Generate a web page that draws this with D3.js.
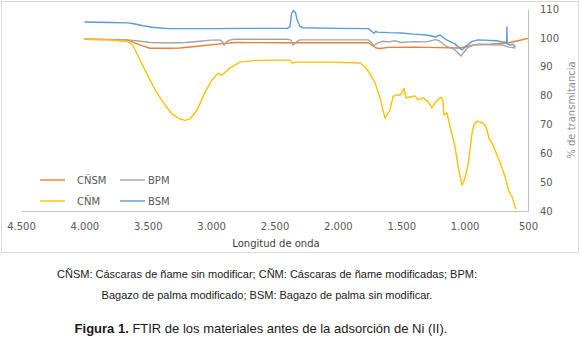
<!DOCTYPE html>
<html lang="es">
<head>
    <meta charset="utf-8" />
    <title>FTIR de los materiales</title>
    <script src="https://d3js.org/d3.v7.min.js"></script>
    <style>
        body { margin: 0; background: #fff; }
        .axis text { font-family: "DejaVu Sans", sans-serif; font-size: 10px; fill: #595959; }
        .caption { font-family: "Liberation Sans", Arial, sans-serif; fill: #1a1a1a; }
    </style>
</head>
<body>
    <script>
        var w = 580;
        var h = 338;

        // wavenumber (cm-1) and % transmittance
        var cnsmX = [4000, 3660, 3600, 3540, 3482, 3340, 3246, 3088, 2930, 2812, 2400, 1760, 1731, 1700, 1668, 1600, 1400, 1200, 1037, 960, 918, 800, 650, 580, 500];
        var cnsmY = [99.5, 99.3, 98.2, 97.2, 96.4, 96.4, 96.5, 97.2, 97.9, 98.4, 98.3, 98.3, 97.5, 96.5, 96.3, 96.7, 96.8, 96.6, 96.5, 97.2, 97.6, 97.8, 98.3, 99, 99.8];

        var bpmX = [4000, 3700, 3640, 3560, 3480, 3340, 3200, 3088, 3000, 2930, 2910, 2898, 2880, 2850, 2812, 2400, 2370, 2354, 2330, 2300, 1760, 1731, 1715, 1690, 1650, 1600, 1550, 1500, 1400, 1300, 1230, 1200, 1150, 1080, 1029, 980, 930, 894, 800, 700, 650, 600];
        var bpmY = [99.5, 99.4, 99.2, 98.8, 98.4, 98.2, 98.4, 98.8, 99.2, 99.3, 98.6, 97.5, 98.6, 99.3, 99.5, 99.5, 99.2, 97.5, 98.5, 99.3, 99.3, 98.2, 97.2, 98.2, 98.8, 98.6, 99, 98.4, 98.7, 98.6, 99.4, 99, 97.2, 96, 93.7, 96.5, 97.5, 97.8, 97.6, 97.5, 96.8, 96.5];

        var cnmX = [4000, 3800, 3656, 3620, 3600, 3522, 3443, 3364, 3309, 3246, 3206, 3167, 3111, 3048, 2993, 2946, 2914, 2851, 2772, 2654, 2457, 2378, 2362, 2330, 2062, 1825, 1786, 1747, 1707, 1668, 1628, 1589, 1565, 1541, 1510, 1494, 1478, 1463, 1431, 1392, 1368, 1328, 1289, 1257, 1226, 1186, 1171, 1163, 1139, 1115, 1092, 1076, 1052, 1021, 997, 973, 958, 942, 926, 902, 879, 855, 831, 808, 776, 745, 713, 681, 650, 626, 603, 595];
        var cnmY = [99.5, 99.3, 98.6, 97.6, 95.8, 88.9, 82, 76.7, 73.6, 71.9, 71.4, 71.9, 75, 81.2, 85.4, 87.7, 87.1, 89.6, 91.6, 92.2, 92.3, 92.3, 91.3, 91.6, 91.6, 91.3, 90, 87.5, 84.4, 79.2, 72.2, 75, 79.6, 80.2, 80.2, 81, 82.5, 79.2, 79.5, 79.9, 78.5, 79.2, 77.9, 75.7, 77.9, 79.4, 78.5, 73.3, 74, 69.2, 65.2, 62.3, 55.4, 49, 51.4, 55.9, 61.1, 67, 69.8, 71.2, 70.8, 70.4, 69.2, 65.2, 62.9, 59.4, 55.9, 51.9, 46.7, 45, 41.5, 40.7];

        var bsmX = [4000, 3800, 3656, 3600, 3537, 3450, 3340, 3000, 2700, 2400, 2378, 2365, 2350, 2335, 2320, 2300, 2275, 2000, 1760, 1731, 1715, 1700, 1690, 1600, 1500, 1400, 1300, 1230, 1194, 1150, 1080, 1021, 980, 940, 894, 750, 690, 668, 666, 664, 640, 620, 600];
        var bsmY = [105.5, 105.3, 105.2, 104.8, 104.2, 103.6, 103.2, 103.2, 103.3, 103.3, 103.8, 108.5, 109.5, 108.8, 106, 104, 103.5, 103.3, 103.2, 102.2, 101.6, 102.3, 102, 101.8, 101.7, 101.3, 101, 100.3, 101, 99.5, 98, 95.8, 97.5, 98.8, 99.3, 99, 98.5, 98.5, 103.8, 98, 97.5, 97.8, 96.8];

        var seriesNames = ["CÑSM", "BPM", "CÑM", "BSM"];
        var seriesColors = ["#ed7d31", "#a5a5a5", "#ffc000", "#5b9bd5"];
        var xTicks = [4500, 4000, 3500, 3000, 2500, 2000, 1500, 1000, 500];
        var yTicks = [40, 50, 60, 70, 80, 90, 100, 110];

        var series = [
            d3.zip(cnsmX, cnsmY),
            d3.zip(bpmX, bpmY),
            d3.zip(cnmX, cnmY),
            d3.zip(bsmX, bsmY)
        ];

        var xScale = d3.scaleLinear().domain([4500, 500]).range([21, 528]);
        var yScale = d3.scaleLinear().domain([40, 110]).range([211, 9]);

        var es = d3.formatLocale({ decimal: ",", thousands: ".", grouping: [3], currency: ["", ""] });

        var svg = d3.select("body")
            .append("svg")
            .attr("width", w)
            .attr("height", h);

        // chart frame
        svg.append("rect")
            .attr("x", 1.5).attr("y", 1.5)
            .attr("width", 577).attr("height", 251)
            .attr("fill", "#fff")
            .attr("stroke", "#d9d9d9");

        // axes
        var xAxis = svg.append("g")
            .attr("class", "axis")
            .attr("transform", "translate(0," + yScale(40) + ")")
            .call(d3.axisBottom(xScale).tickValues(xTicks).tickFormat(es.format(",")).tickSize(0).tickPadding(12));
        xAxis.select(".domain").attr("stroke", "#bfbfbf");

        var yAxis = svg.append("g")
            .attr("class", "axis")
            .attr("transform", "translate(" + xScale(500) + ",0)")
            .call(d3.axisRight(yScale).tickValues(yTicks).tickSize(0).tickPadding(12));
        yAxis.select(".domain").attr("stroke", "#bfbfbf");

        // lines
        var line = d3.line()
            .x(function (d) { return xScale(d[0]); })
            .y(function (d) { return yScale(d[1]); });

        svg.selectAll(".series")
            .data(series)
            .enter()
            .append("path")
            .attr("class", "series")
            .attr("d", line)
            .attr("fill", "none")
            .attr("stroke", function (d, i) { return seriesColors[i]; })
            .attr("stroke-width", 1.4)
            .attr("stroke-linejoin", "round");

        // axis titles
        svg.append("text")
            .attr("x", 276).attr("y", 247)
            .attr("text-anchor", "middle")
            .attr("font-family", "DejaVu Sans, sans-serif")
            .attr("font-size", "10px")
            .attr("fill", "#404040")
            .text("Longitud de onda");

        svg.append("text")
            .attr("transform", "translate(575,110) rotate(-90)")
            .attr("text-anchor", "middle")
            .attr("font-family", "DejaVu Sans, sans-serif")
            .attr("font-size", "10px")
            .attr("fill", "#8c8c8c")
            .text("% de transmitancia");

        // legend
        var legendPos = [[40, 180], [120, 180], [40, 201], [120, 201]];
        var legend = svg.selectAll(".legend")
            .data(seriesNames)
            .enter()
            .append("g")
            .attr("class", "legend")
            .attr("transform", function (d, i) { return "translate(" + legendPos[i][0] + "," + legendPos[i][1] + ")"; });
        legend.append("line")
            .attr("x1", 0).attr("x2", 25)
            .attr("stroke", function (d, i) { return seriesColors[i]; })
            .attr("stroke-width", 1.4);
        legend.append("text")
            .attr("x", function (d, i) { return i % 2 === 0 ? 37 : 28; })
            .attr("y", 4)
            .attr("font-family", "DejaVu Sans, sans-serif")
            .attr("font-size", "10px")
            .attr("fill", "#595959")
            .text(function (d) { return d; });

        // caption under the chart
        var captionLines = [
            "CÑSM: Cáscaras de ñame sin modificar; CÑM: Cáscaras de ñame modificadas; BPM:",
            "Bagazo de palma modificado; BSM: Bagazo de palma sin modificar."
        ];
        svg.selectAll(".caption-line")
            .data(captionLines)
            .enter()
            .append("text")
            .attr("class", "caption")
            .attr("x", 267)
            .attr("y", function (d, i) { return 278 + i * 21; })
            .attr("text-anchor", "middle")
            .attr("font-size", "11px")
            .text(function (d) { return d; });

        var title = svg.append("text")
            .attr("class", "caption")
            .attr("x", 261).attr("y", 333)
            .attr("text-anchor", "middle")
            .attr("font-size", "13px");
        title.append("tspan").attr("font-weight", "bold").text("Figura 1.");
        title.append("tspan").text(" FTIR de los materiales antes de la adsorción de Ni (II).");
    </script>
</body>
</html>
